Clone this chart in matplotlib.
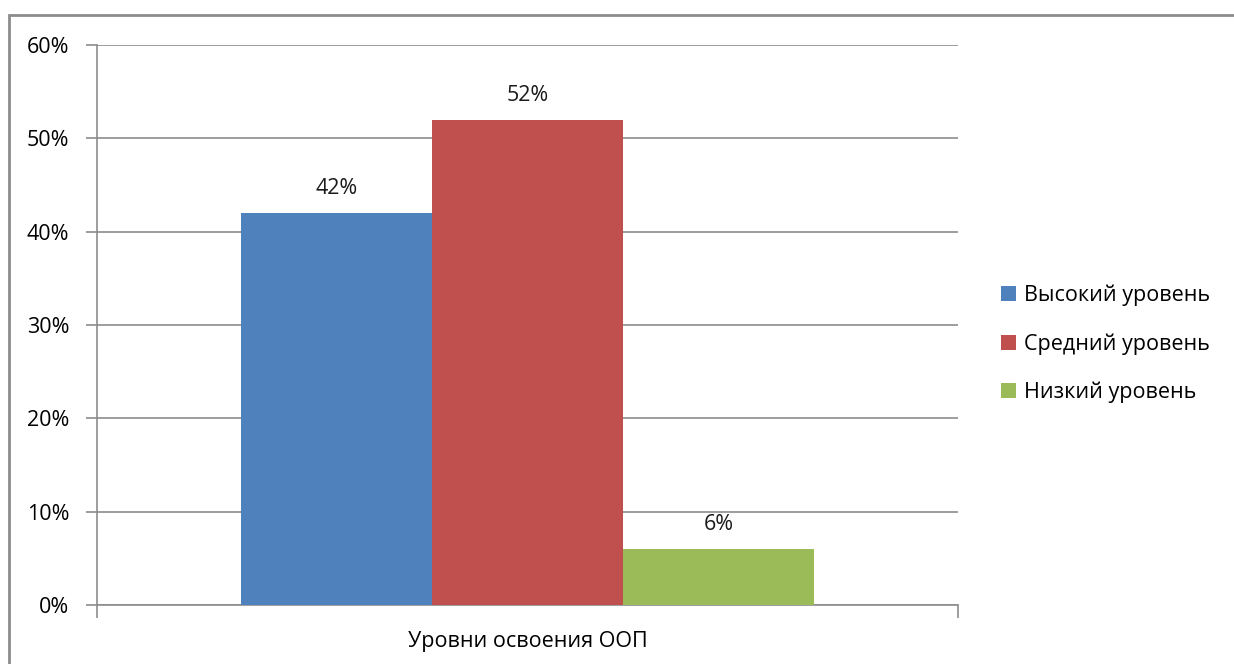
import matplotlib.pyplot as plt
from matplotlib.patches import Rectangle
from matplotlib.ticker import FuncFormatter

plt.rcParams['font.family'] = ['Open Sans', 'DejaVu Sans']

category = 'Уровни освоения ООП'
series = ['Высокий уровень', 'Средний уровень', 'Низкий уровень']
values = [42, 52, 6]
colors = ['#4F81BD', '#C0504D', '#9BBB59']
yticks = [0, 10, 20, 30, 40, 50, 60]

W, H = 1234, 664
fig = plt.figure(figsize=(W / 100, H / 100), dpi=100)
# plot area in pixels: left 97, right 958, top 45, bottom 605
ax = fig.add_axes([97 / W, 1 - 605 / H, (958 - 97) / W, (605 - 45) / H])

# outer chart border (right and bottom edges fall off the picture)
fig.patches.append(Rectangle((9 / W, -0.1), 1.2, 1.1 - 15 / H, transform=fig.transFigure,
                             fill=False, edgecolor='#8c8c8c', linewidth=2, zorder=0))

fs = 15.5
bw = 0.222
offsets = [-bw, 0, bw]
for name, v, c, off in zip(series, values, colors, offsets):
    ax.bar(off, v, width=bw, color=c, label=name, zorder=3)
    ax.text(off, v + 1.5, '%d%%' % v, ha='center', va='bottom', fontsize=fs, color='#1a1a1a')

ax.set_xlim(-0.5, 0.5)
ax.set_ylim(0, 60)
ax.set_yticks(yticks)
ax.yaxis.set_major_formatter(FuncFormatter(lambda y, p: '%d%%' % y))
ax.grid(axis='y', color='#8c8c8c', linewidth=1.2, zorder=0)
ax.set_axisbelow(True)

for s in ['top', 'right']:
    ax.spines[s].set_visible(False)
ax.spines['left'].set_color('#8c8c8c')
ax.spines['bottom'].set_color('#8c8c8c')
ax.spines['left'].set_linewidth(1.2)
ax.spines['bottom'].set_linewidth(1.2)

ax.tick_params(axis='y', length=8, color='#8c8c8c', width=1.2, labelsize=fs, pad=12)
ax.set_xticks([-0.5, 0.5])
ax.set_xticklabels(['', ''])
ax.tick_params(axis='x', length=9, color='#8c8c8c', width=1.2)
ax.text(0.5, -0.047, category, transform=ax.transAxes, ha='center', va='top', fontsize=fs)

leg = ax.legend(loc='center left', bbox_to_anchor=(982 / W, 1 - 344 / H),
                bbox_transform=fig.transFigure, frameon=False, fontsize=fs,
                handlelength=0.7, handleheight=0.7, handletextpad=0.35, labelspacing=1.25)

fig.savefig('out.png', dpi=100)
